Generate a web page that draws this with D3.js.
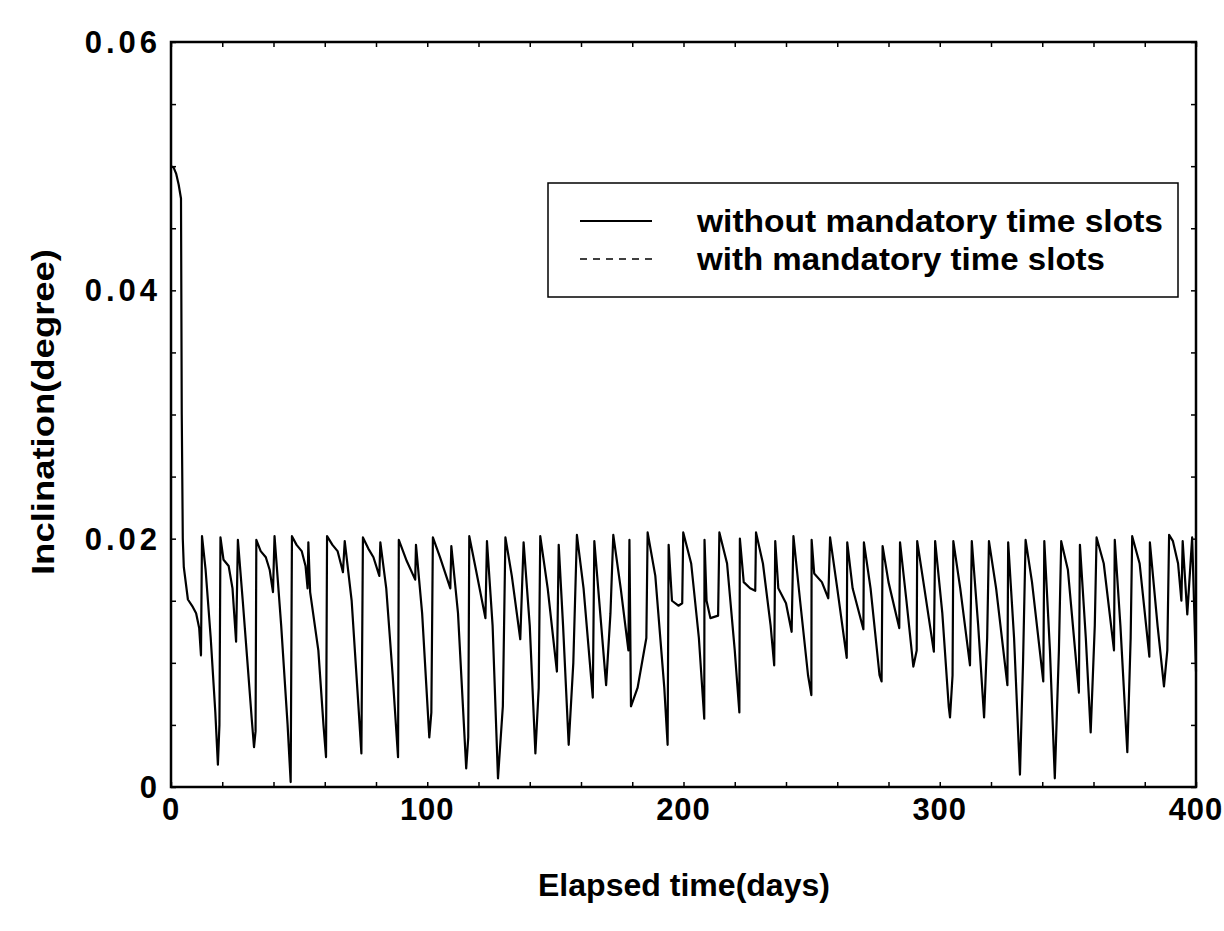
<!DOCTYPE html>
<html>
<head>
<meta charset="utf-8">
<script src="https://cdn.jsdelivr.net/npm/d3@7"></script>
<style>
  body { margin: 0; background: #fff; }
  text { font-family: "Liberation Sans", Arial, sans-serif; font-weight: bold; fill: #000; }
</style>
</head>
<body>
<div class="chart"></div>
<script>
// data: [day, inclination in degree]
var days = [0, 1, 2, 3, 3.9, 4.2, 4.6, 5, 6.6, 8.5, 9.8, 11, 11.7, 12.1,
    13.5, 15.5, 17.3, 18.3, 18.9, 19.3, 20.5, 22.5, 24, 25.4, 26.1, 28, 30, 31.5, 32.4, 33, 33.3,
    35, 37, 38.5, 39.8, 40.4, 43, 45.5, 46.7, 47.2, 49, 51, 52.5, 53.3, 53.6, 54.3, 57.5, 59.5, 60.5, 60.9,
    63, 65, 66.5, 67.1, 67.8, 70.5, 73, 74.3, 74.9, 77, 79, 81.3, 81.7, 84, 86.5, 88.6, 88.9,
    92, 95.3, 95.6, 98, 100.8, 101.6, 102.2, 105, 109, 109.4, 112, 115.2, 116, 116.4,
    119, 122.7, 123.3, 125.5, 127.6, 129.5, 130.5, 133, 136.3, 137.6, 140, 142.2, 143.5, 144.1,
    147, 150.6, 151.3, 153, 155.2, 157, 158.4, 161, 164.6, 165.2, 167.5, 169.8, 171.5, 172.6,
    175.5, 178.5, 178.9, 179.5, 182.1, 185.5, 186, 189, 192.5, 193.8, 194.2, 195.5, 198, 199.5, 199.9,
    203, 206, 208.1, 208.2, 209, 210.5, 213.5, 214, 217, 220, 221.8, 222, 223.5, 226, 228, 228.3,
    231, 234, 235.4, 235.8, 237, 240, 242.2, 242.9, 245.5, 248.6, 249.9, 250, 251, 254, 256.5, 257.2,
    260, 263.7, 263.9, 266, 270.2, 270.4, 273, 276.5, 277.3, 277.7, 280, 284.2, 284.5, 287, 289.7, 291, 291.2,
    294, 297.7, 298.2, 301, 303.5, 304, 305, 305.3, 308, 311.8, 312.5, 315, 317.3, 318.5, 319.2,
    322, 326.4, 326.7, 329, 331.3, 332.5, 333.5, 336, 340.4, 340.8, 343, 344.9, 346.5, 347.4,
    350, 354.3, 354.7, 357, 358.9, 360.5, 361.2, 364, 368, 368.3, 370.5, 373.2, 374.5, 375.1,
    378, 381.8, 382, 385, 387.5, 388.8, 389.5, 391, 393, 394.3, 394.8, 396.6, 398.5, 400];

var inclination = [0.0500, 0.0499, 0.0494, 0.0485, 0.0474, 0.0300, 0.0200, 0.0177, 0.0151, 0.0145, 0.0140, 0.0128, 0.0106, 0.0202,
    0.0175, 0.0120, 0.0060, 0.0018, 0.0050, 0.0201, 0.0183, 0.0178, 0.0160, 0.0117, 0.0199, 0.0150, 0.0096, 0.0055, 0.0032, 0.0045, 0.0199,
    0.0190, 0.0185, 0.0175, 0.0157, 0.0202, 0.0130, 0.0050, 0.0004, 0.0202, 0.0195, 0.0190, 0.0178, 0.0160, 0.0197, 0.0157, 0.0110, 0.0050, 0.0024, 0.0202,
    0.0195, 0.0190, 0.0178, 0.0173, 0.0198, 0.0150, 0.0070, 0.0027, 0.0201, 0.0192, 0.0185, 0.0170, 0.0197, 0.0160, 0.0090, 0.0024, 0.0199,
    0.0182, 0.0167, 0.0195, 0.0140, 0.0040, 0.0060, 0.0201, 0.0185, 0.0160, 0.0194, 0.0140, 0.0015, 0.0040, 0.0202,
    0.0175, 0.0136, 0.0198, 0.0130, 0.0007, 0.0065, 0.0201, 0.0170, 0.0119, 0.0197, 0.0130, 0.0027, 0.0080, 0.0202,
    0.0160, 0.0093, 0.0195, 0.0130, 0.0034, 0.0100, 0.0203, 0.0160, 0.0072, 0.0198, 0.0140, 0.0082, 0.0140, 0.0203,
    0.0160, 0.0110, 0.0199, 0.0065, 0.0080, 0.0120, 0.0205, 0.0170, 0.0080, 0.0034, 0.0195, 0.0150, 0.0146, 0.0148, 0.0205,
    0.0180, 0.0120, 0.0055, 0.0199, 0.0150, 0.0136, 0.0138, 0.0205, 0.0180, 0.0110, 0.0060, 0.0200, 0.0165, 0.0160, 0.0158, 0.0205,
    0.0180, 0.0130, 0.0098, 0.0198, 0.0160, 0.0148, 0.0125, 0.0202, 0.0150, 0.0090, 0.0074, 0.0199, 0.0172, 0.0165, 0.0152, 0.0201,
    0.0160, 0.0104, 0.0197, 0.0160, 0.0127, 0.0197, 0.0160, 0.0090, 0.0085, 0.0194, 0.0165, 0.0128, 0.0197, 0.0150, 0.0097, 0.0110, 0.0198,
    0.0160, 0.0109, 0.0198, 0.0140, 0.0065, 0.0056, 0.0090, 0.0198, 0.0160, 0.0098, 0.0198, 0.0130, 0.0056, 0.0120, 0.0198,
    0.0160, 0.0082, 0.0197, 0.0120, 0.0010, 0.0100, 0.0199, 0.0165, 0.0085, 0.0198, 0.0110, 0.0007, 0.0110, 0.0198,
    0.0175, 0.0076, 0.0195, 0.0120, 0.0044, 0.0130, 0.0201, 0.0180, 0.0110, 0.0199, 0.0130, 0.0028, 0.0120, 0.0202,
    0.0180, 0.0105, 0.0197, 0.0130, 0.0081, 0.0110, 0.0203, 0.0198, 0.0180, 0.0150, 0.0198, 0.0139, 0.0201, 0.0093];

var xTickLabels = [0, 100, 200, 300, 400];
var yTickLabels = [0, 0.02, 0.04, 0.06];
var seriesNames = ["without mandatory time slots", "with mandatory time slots"];

var w = 1224;
var h = 931;
// plot box edges (named so they don't clash with window.top)
var pLeft = 171, pRight = 1196, pTop = 42, pBottom = 787;

var svg = d3.select(".chart").append("svg")
    .attr("width", w)
    .attr("height", h);

var x = d3.scaleLinear().domain([0, 400]).range([pLeft, pRight]);
var y = d3.scaleLinear().domain([0, 0.06]).range([pBottom, pTop]);

// inward ticks on all four sides
var xMinor = d3.range(0, 401, 20);
var yMinor = d3.range(0, 13).map(function(i) { return i * 0.005; });

function noDomain(g) { g.select(".domain").remove(); }

svg.append("g").attr("transform", "translate(0," + pBottom + ")")
    .call(d3.axisBottom(x).tickValues(xMinor).tickSize(-5).tickFormat(""))
    .call(noDomain);
svg.append("g").attr("transform", "translate(0," + pTop + ")")
    .call(d3.axisTop(x).tickValues(xMinor).tickSize(-5).tickFormat(""))
    .call(noDomain);
svg.append("g").attr("transform", "translate(" + pLeft + ",0)")
    .call(d3.axisLeft(y).tickValues(yMinor).tickSize(-5).tickFormat(""))
    .call(noDomain);
svg.append("g").attr("transform", "translate(" + pRight + ",0)")
    .call(d3.axisRight(y).tickValues(yMinor).tickSize(-5).tickFormat(""))
    .call(noDomain);
svg.selectAll("g.tick line").style("stroke", "#000").style("stroke-width", 1.5);

// tick labels
svg.selectAll(".xlab")
    .data(xTickLabels)
    .enter()
    .append("text")
    .attr("class", "xlab")
    .attr("x", function(d) { return x(d); })
    .attr("y", pBottom + 33)
    .attr("text-anchor", "middle")
    .style("font-size", "31px")
    .style("letter-spacing", "1px")
    .text(function(d) { return d; });

svg.selectAll(".ylab")
    .data(yTickLabels)
    .enter()
    .append("text")
    .attr("class", "ylab")
    .attr("x", pLeft - 10)
    .attr("y", function(d) { return y(d) + 11; })
    .attr("text-anchor", "end")
    .style("font-size", "31px")
    .style("letter-spacing", "4px")
    .text(function(d) { return d === 0 ? "0" : d.toFixed(2); });

// the curve
var points = days.map(function(d, i) { return [d, inclination[i]]; });
var line = d3.line()
    .x(function(d) { return x(d[0]); })
    .y(function(d) { return y(d[1]); });

svg.append("path")
    .datum(points)
    .attr("d", line)
    .attr("fill", "none")
    .attr("stroke", "#000")
    .attr("stroke-width", 2.2)
    .attr("stroke-linejoin", "round");

// frame
svg.append("rect")
    .attr("x", pLeft)
    .attr("y", pTop)
    .attr("width", pRight - pLeft)
    .attr("height", pBottom - pTop)
    .attr("fill", "none")
    .attr("stroke", "#000")
    .attr("stroke-width", 2.5);

// legend
var legend = svg.append("g").attr("transform", "translate(548,183)");
legend.append("rect")
    .attr("width", 630)
    .attr("height", 114)
    .attr("fill", "#fff")
    .attr("stroke", "#000")
    .attr("stroke-width", 1.5);

legend.selectAll(".lg")
    .data(seriesNames)
    .enter()
    .append("line")
    .attr("x1", 32)
    .attr("x2", 104)
    .attr("y1", function(d, i) { return 38 + i * 38; })
    .attr("y2", function(d, i) { return 38 + i * 38; })
    .attr("stroke", "#000")
    .attr("stroke-width", function(d, i) { return i === 0 ? 2 : 1.5; })
    .attr("stroke-dasharray", function(d, i) { return i === 0 ? null : "7,6"; });

legend.selectAll(".lt")
    .data(seriesNames)
    .enter()
    .append("text")
    .attr("x", 149)
    .attr("y", function(d, i) { return 49 + i * 38; })
    .style("font-size", "32px")
    .attr("textLength", function(d, i) { return i === 0 ? 466 : 408; })
    .attr("lengthAdjust", "spacingAndGlyphs")
    .text(function(d) { return d; });

// axis titles
svg.append("text")
    .attr("x", 684)
    .attr("y", 896)
    .attr("text-anchor", "middle")
    .style("font-size", "31px")
    .attr("textLength", 292)
    .attr("lengthAdjust", "spacingAndGlyphs")
    .text("Elapsed time(days)");

svg.append("text")
    .attr("transform", "translate(54,412) rotate(-90)")
    .attr("text-anchor", "middle")
    .style("font-size", "31px")
    .attr("textLength", 326)
    .attr("lengthAdjust", "spacingAndGlyphs")
    .text("Inclination(degree)");
</script>
</body>
</html>
